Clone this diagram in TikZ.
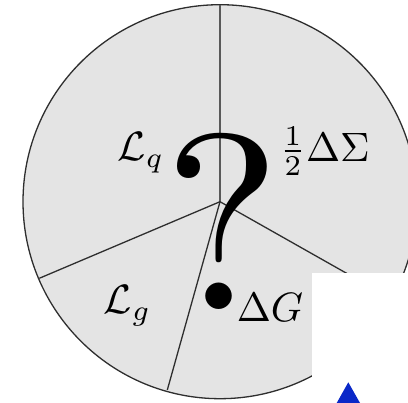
\documentclass[tikz,border=0pt]{standalone}
\usetikzlibrary{calc}
\definecolor{piefill}{HTML}{E4E4E4}
\definecolor{pieline}{HTML}{2E2E2E}
\definecolor{tri}{RGB}{10,40,200}
\tikzset{
  lbl/.style={inner sep=0pt, scale=4.1, anchor=base west},
  spoke/.style={draw=pieline, line width=1.3pt},
}
\begin{document}
\begin{tikzpicture}[x=1pt,y=-1pt]
\useasboundingbox (0,0) rectangle (408,403);
\clip (0,0) rectangle (408,403);
\coordinate (c) at (220,201.7);
\filldraw[fill=piefill, draw=pieline, line width=1.3pt] (c) circle (197);
\coordinate (ptop) at (220,4.7);
\coordinate (pleft) at (39.3,278.3);
\coordinate (pbot) at (167.3,390);
\coordinate (pright) at ($(c)+(171.5,97)$);
\draw[spoke, draw=black!65] (c) -- (ptop);
\draw[spoke] (c) -- (pleft);
\draw[spoke] (c) -- (pbot);
\draw[spoke] (c) -- (pright);
\node[lbl] (lq) at (117,161) {$\mathcal{L}_q$};
\node[lbl] (sig) at (279,161.5) {$\frac{1}{2}\Delta\Sigma$};
\node[lbl] (lg) at (103,314) {$\mathcal{L}_g$};
\node[lbl] (dg) at (236,321.7) {$\Delta G$};
\node[inner sep=0pt, scale=25, anchor=base] (q) at (222,310) {?};
\fill[white] (311.7,273.3) rectangle (410,405);
\fill[tri] (336.7,403) -- (348.3,382.3) -- (360,403) -- cycle;
\end{tikzpicture}
\end{document}
